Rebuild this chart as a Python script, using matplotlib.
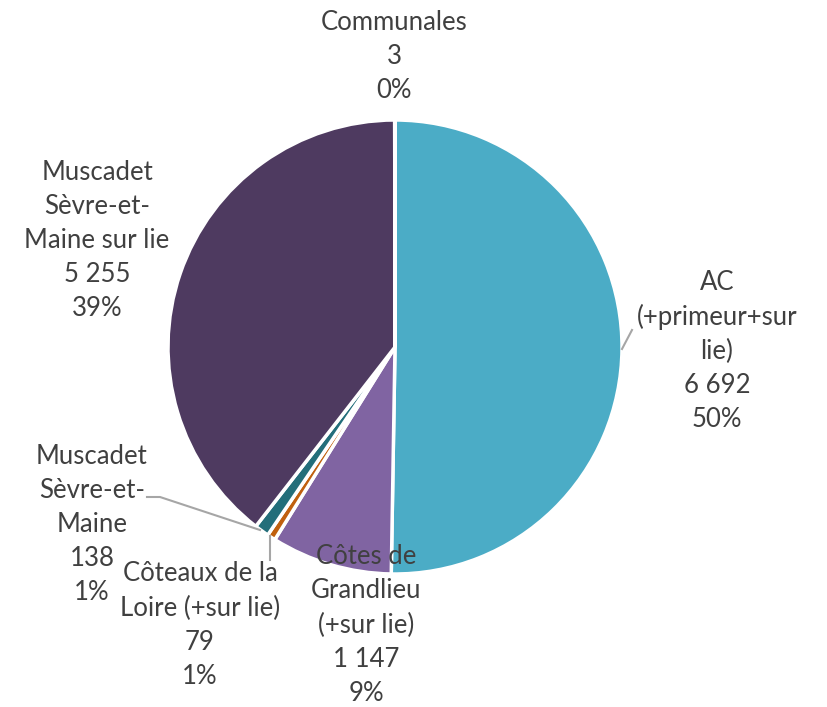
import matplotlib
matplotlib.use("Agg")
import matplotlib.pyplot as plt

plt.rcParams['font.family'] = ['Lato', 'DejaVu Sans']

categories = ["AC\n(+primeur+sur\nlie)", "Côtes de\nGrandlieu\n(+sur lie)",
              "Côteaux de la\nLoire (+sur lie)", "Muscadet\nSèvre-et-\nMaine",
              "Muscadet\nSèvre-et-\nMaine sur lie", "Communales"]
values = [6692, 1147, 79, 138, 5255, 3]
value_labels = ["6 692", "1 147", "79", "138", "5 255", "3"]
colors = ["#4BACC6", "#8064A2", "#C0600F", "#236E7A", "#4E3A60", "#9BBB59"]

# label centres (pixel coordinates, y from top)
label_pos = [(717, 351), (366, 625), (200, 625), (92, 524), (97, 240), (394, 57)]

W, H = 827, 707
fig = plt.figure(figsize=(W / 100, H / 100), dpi=100)
ax = fig.add_axes([0, 0, 1, 1])

cx, cy, r = 395, H - 347, 227
ax.pie(values, colors=colors, startangle=90, counterclock=False,
       center=(cx, cy), radius=r, frame=True,
       wedgeprops=dict(edgecolor='white', linewidth=2.5))
ax.set_xlim(0, W)
ax.set_ylim(0, H)
ax.set_aspect('equal')
ax.axis('off')

total = sum(values)
for cat, vl, v, (x, y) in zip(categories, value_labels, values, label_pos):
    pct = round(100 * v / total)
    ax.text(x, H - y, f"{cat}\n{vl}\n{pct}%", ha='center', va='center',
            fontsize=18.5, color='#404040', linespacing=1.45)

# leader lines
lc = '#A6A6A6'
ax.plot([622, 632], [H - 349, H - 330], color=lc, lw=1.5)
ax.plot([147, 160, 260], [H - 497, H - 497, H - 530], color=lc, lw=1.5)
ax.plot([270, 270], [H - 536, H - 560], color=lc, lw=1.5)

fig.savefig("out.png", dpi=100)
